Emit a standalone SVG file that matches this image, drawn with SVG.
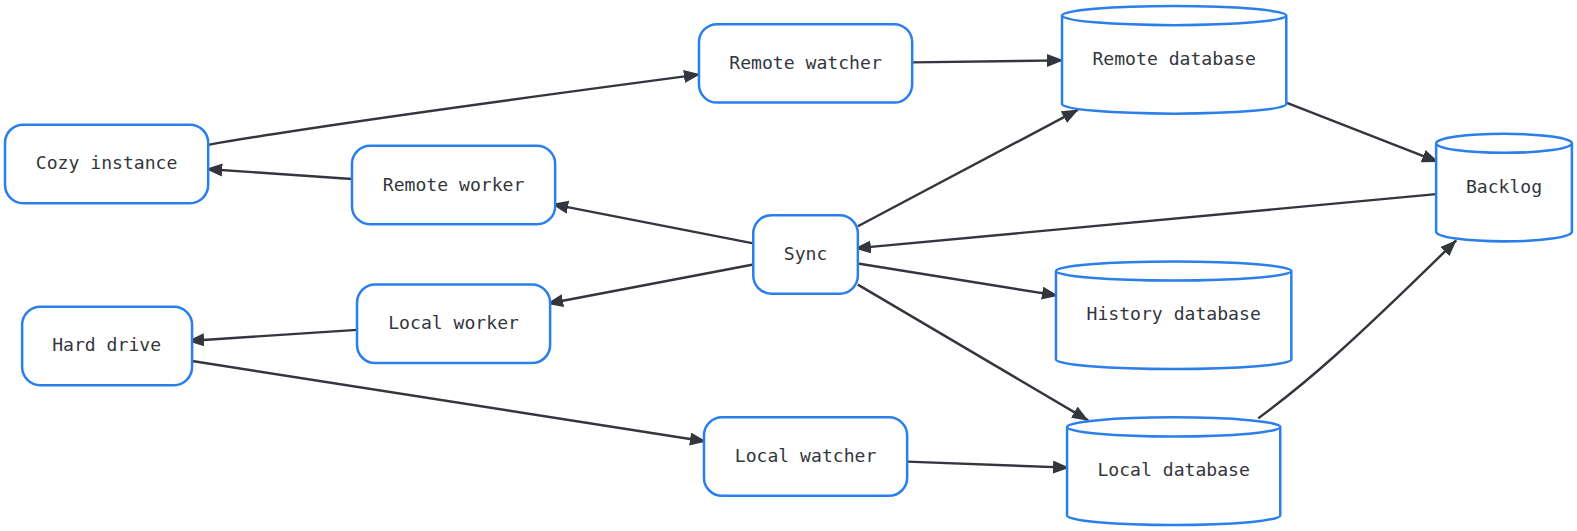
<svg xmlns="http://www.w3.org/2000/svg" width="1577" height="531" viewBox="0 0 1577 531">
<style>
.node rect,.node path{fill:#ffffff;stroke:#2b7fea;stroke-width:2.5}
.node text{font-family:"DejaVu Sans Mono","Liberation Mono",monospace;font-size:18px;fill:#33363d;text-anchor:middle;dominant-baseline:central}
.edge{fill:none;stroke:#33363d;stroke-width:2.4}
</style>
<defs>
<marker id="arr" markerUnits="userSpaceOnUse" markerWidth="18" markerHeight="14" refX="16" refY="6.5" orient="auto">
<path d="M0,0 L16.5,6.5 L0,13 z" fill="#33363d"/>
</marker>
</defs>
<rect width="1577" height="531" fill="#ffffff"/>
<g transform="scale(1.0057)">
<g id="connectors">
<path class="edge" marker-end="url(#arr)" d="M207,144 C320,124 560,92 696,74"/>
<path class="edge" marker-end="url(#arr)" d="M907,62 L1057,60"/>
<path class="edge" marker-end="url(#arr)" d="M1279,102 L1430,161"/>
<path class="edge" marker-end="url(#arr)" d="M1428,193 L850,247"/>
<path class="edge" marker-end="url(#arr)" d="M853,225 L1072,109"/>
<path class="edge" marker-end="url(#arr)" d="M749,242 L549,203"/>
<path class="edge" marker-end="url(#arr)" d="M350,178 L205,168"/>
<path class="edge" marker-end="url(#arr)" d="M749,263 L544,302"/>
<path class="edge" marker-end="url(#arr)" d="M355,328 L187,339"/>
<path class="edge" marker-end="url(#arr)" d="M853,262 L1052,294"/>
<path class="edge" marker-end="url(#arr)" d="M853,283 L1082,418"/>
<path class="edge" marker-end="url(#arr)" d="M191,359 L702,439"/>
<path class="edge" marker-end="url(#arr)" d="M902,459 L1063,465"/>
<path class="edge" marker-end="url(#arr)" d="M1251,416 C1300,380 1340,345 1448,239"/>
</g>
<g id="cozy" class="node"><rect x="5" y="124" width="202" height="78" rx="18"/><text x="106" y="162">Cozy instance</text></g>
<g id="remote-watcher" class="node"><rect x="695" y="24" width="212" height="78" rx="18"/><text x="801" y="62">Remote watcher</text></g>
<g id="remote-worker" class="node"><rect x="350" y="145" width="202" height="78" rx="18"/><text x="451" y="183">Remote worker</text></g>
<g id="sync" class="node"><rect x="749" y="214" width="104" height="78" rx="18"/><text x="801" y="252">Sync</text></g>
<g id="local-worker" class="node"><rect x="355" y="283" width="192" height="78" rx="18"/><text x="451" y="321">Local worker</text></g>
<g id="hard-drive" class="node"><rect x="22" y="305" width="169" height="78" rx="18"/><text x="106" y="343">Hard drive</text></g>
<g id="local-watcher" class="node"><rect x="700" y="415" width="202" height="78" rx="18"/><text x="801" y="453">Local watcher</text></g>
<g id="remote-database" class="node"><path d="M1056,15.5 a111.5,9.5 0 0 0 223,0 a111.5,9.5 0 0 0 -223,0 l0,88 a111.5,9.5 0 0 0 223,0 l0,-88"/><text x="1167.5" y="58">Remote database</text></g>
<g id="backlog" class="node"><path d="M1428,142.5 a67.5,9.5 0 0 0 135,0 a67.5,9.5 0 0 0 -135,0 l0,88 a67.5,9.5 0 0 0 135,0 l0,-88"/><text x="1495.5" y="185">Backlog</text></g>
<g id="history-database" class="node"><path d="M1050,269.5 a117,9.5 0 0 0 234,0 a117,9.5 0 0 0 -234,0 l0,88 a117,9.5 0 0 0 234,0 l0,-88"/><text x="1167" y="312">History database</text></g>
<g id="local-database" class="node"><path d="M1061,424.5 a106,9.5 0 0 0 212,0 a106,9.5 0 0 0 -212,0 l0,88 a106,9.5 0 0 0 212,0 l0,-88"/><text x="1167" y="467">Local database</text></g>
</g>
</svg>
